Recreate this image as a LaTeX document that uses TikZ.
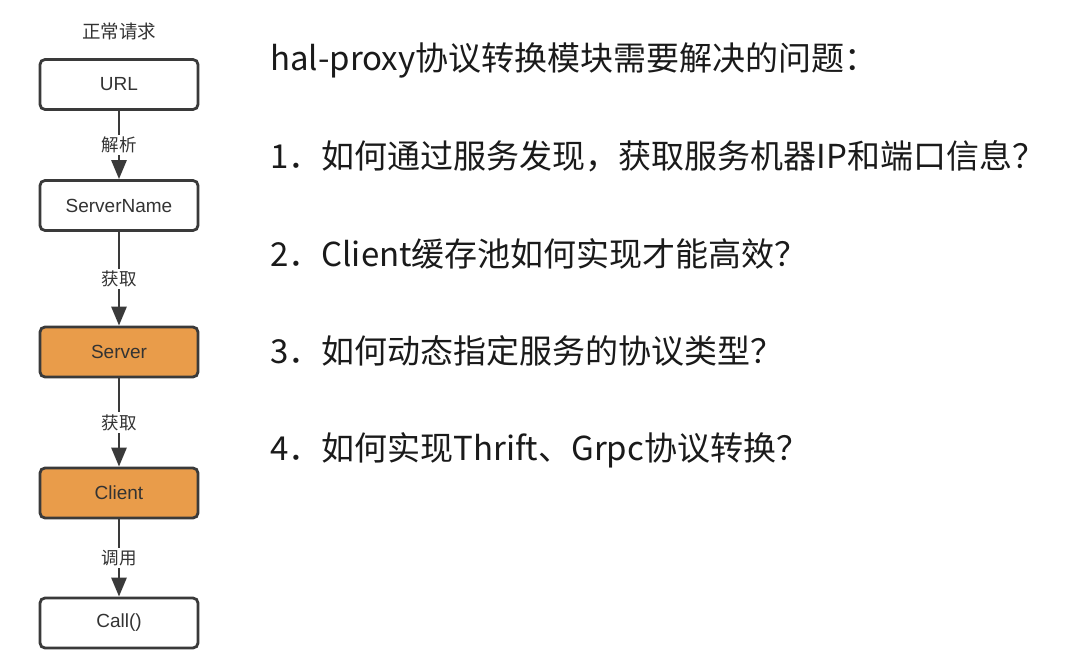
\documentclass[tikz,border=0pt]{standalone}
\usepackage{fontspec}
\setmainfont{Liberation Sans}
\newfontfamily\cjk{Noto Sans CJK SC}
\newfontfamily\boxfont{Liberation Sans}
\usetikzlibrary{arrows.meta}
\definecolor{edgegray}{HTML}{3A3A3A}
\definecolor{boxorange}{HTML}{E99C4A}
\definecolor{txtgray}{HTML}{333333}
\definecolor{txtdark}{HTML}{1A1A1A}
\tikzset{
  flowbox/.style={draw=edgegray, line width=2.8pt, rounded corners=5pt, minimum width=158pt, minimum height=50pt, inner sep=0pt, fill=white, text=txtgray, font=\boxfont\fontsize{19}{19}\selectfont},
  hotbox/.style={flowbox, fill=boxorange},
  flowarrow/.style={draw=edgegray, line width=2.8pt, -{Triangle[width=15pt,length=19pt]}},
  edgelabel/.style={fill=white, inner sep=2pt, text=txtgray, font=\cjk\fontsize{17.5}{17.5}\selectfont},
  question/.style={anchor=base west, inner sep=0pt, text=txtdark, font=\cjk\fontsize{33}{33}\selectfont}
}
\begin{document}
\begin{tikzpicture}[x=1pt,y=-1pt]
\useasboundingbox[fill=white] (0,0) rectangle (1080,666);
\node[text=txtgray, font=\cjk\fontsize{18.5}{18.5}\selectfont] (title) at (119,31.5) {正常请求};
\node[flowbox] (url) at (119,84.5) {URL};
\node[flowbox] (sname) at (119,205.5) {ServerName};
\node[hotbox] (server) at (119,352) {Server};
\node[hotbox] (client) at (119,493) {Client};
\node[flowbox] (call) at (119,623) {Call()};
\draw[flowarrow] (url) -- node[edgelabel] (l1) {解析} (sname);
\draw[flowarrow] (sname) -- node[edgelabel] (l2) {获取} (server);
\draw[flowarrow] (server) -- node[edgelabel] (l3) {获取} (client);
\draw[flowarrow] (client) -- node[edgelabel] (l4) {调用} (call);
\node[question] (q0) at (270,71) {hal-proxy协议转换模块需要解决的问题：};
\node[question] (q1) at (270,169) {1．如何通过服务发现，获取服务机器IP和端口信息？};
\node[question] (q2) at (270,266) {2．Client缓存池如何实现才能高效？};
\node[question] (q3) at (270,363.5) {3．如何动态指定服务的协议类型？};
\node[question] (q4) at (270,460.5) {4．如何实现Thrift、Grpc协议转换？};
\end{tikzpicture}
\end{document}
